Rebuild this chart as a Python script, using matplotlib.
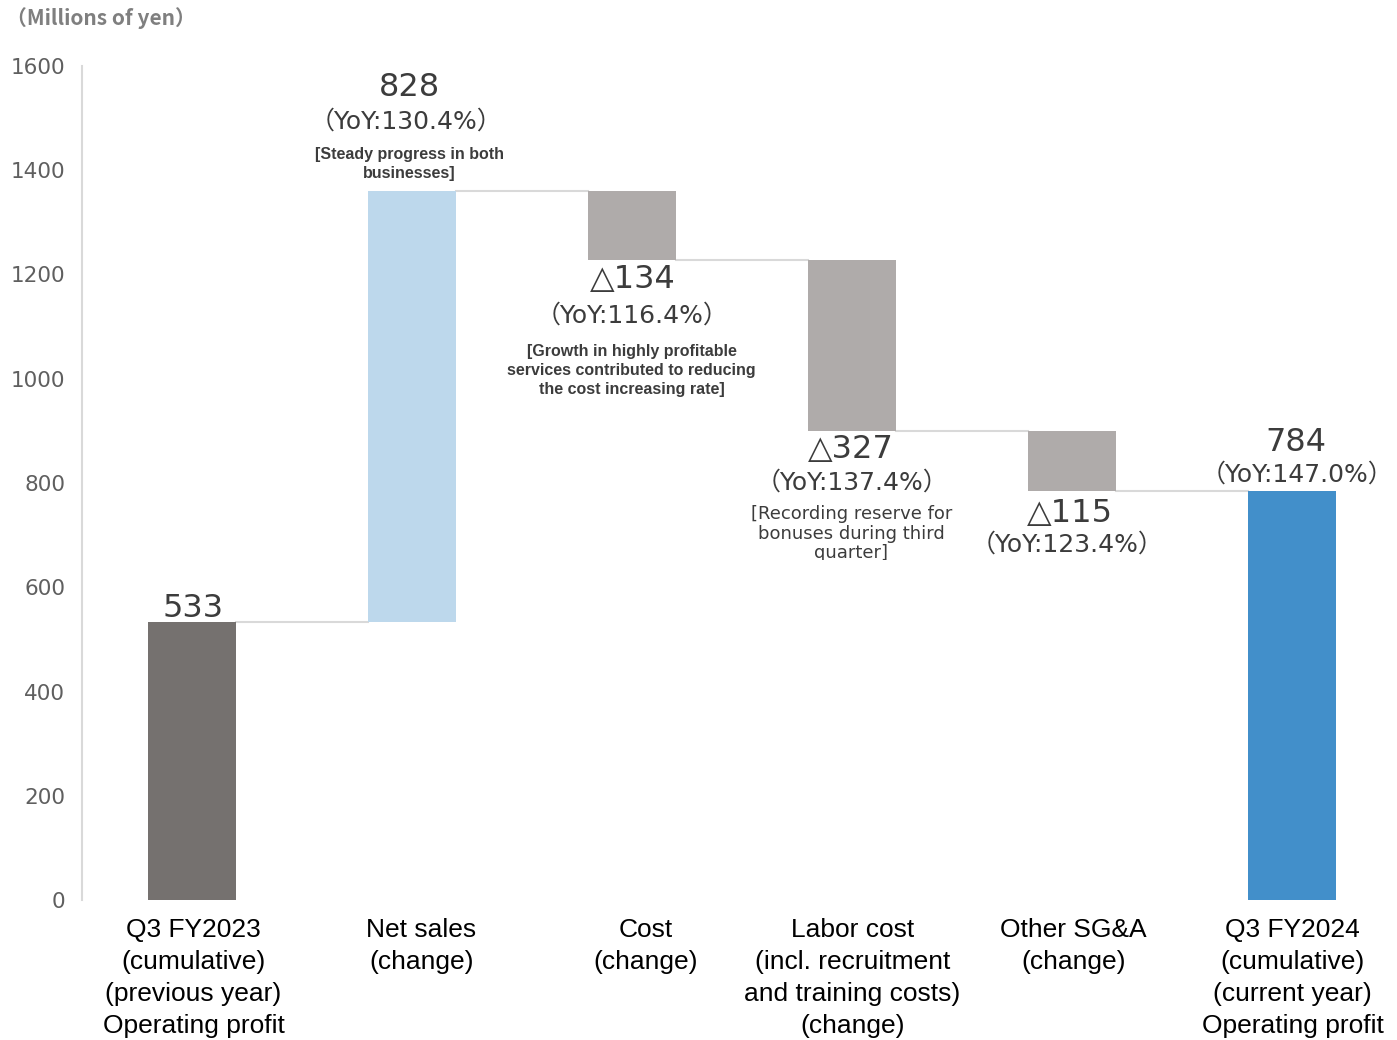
import matplotlib
matplotlib.use("Agg")
import matplotlib.pyplot as plt
import matplotlib.transforms as mtransforms

# data
categories = [
    "Q3 FY2023\n(cumulative)\n(previous year)\nOperating profit",
    "Net sales\n(change)",
    "Cost\n(change)",
    "Labor cost\n(incl. recruitment\nand training costs)\n(change)",
    "Other SG&A\n(change)",
    "Q3 FY2024\n(cumulative)\n(current year)\nOperating profit",
]
start_value = 533
changes = [828, -134, -327, -115]
end_value = 784
value_labels = ["533", "828", "△134", "△327", "△115", "784"]
yoy_labels = [None, "（YoY:130.4%）", "（YoY:116.4%）", "（YoY:137.4%）", "（YoY:123.4%）", "（YoY:147.0%）"]
notes = [None,
         "[Steady progress in both\nbusinesses]",
         "[Growth in highly profitable\nservices contributed to reducing\nthe cost increasing rate]",
         "[Recording reserve for\nbonuses during third\nquarter]",
         None, None]
yticks = [0, 200, 400, 600, 800, 1000, 1200, 1400, 1600]

colors = ["#75716f", "#bdd8ec", "#afabaa", "#afabaa", "#afabaa", "#428fca"]

JP = ["DejaVu Sans", "Noto Sans CJK JP"]
LAT = ["Liberation Sans", "DejaVu Sans"]

# waterfall geometry
bottoms, tops = [0], [start_value]
level = start_value
for c in changes:
    new = level + c
    bottoms.append(min(level, new))
    tops.append(max(level, new))
    level = new
bottoms.append(0)
tops.append(end_value)
heights = [t - b for t, b in zip(tops, bottoms)]

fig = plt.figure(figsize=(13.97, 10.40), dpi=100)
ax = fig.add_axes([82 / 1397, 140 / 1040, 1 - 82 / 1397, 834 / 1040])

x = list(range(len(categories)))
ax.bar(x, heights, bottom=bottoms, width=0.4, color=colors, zorder=3)

# connectors
levels = [start_value]
lv = start_value
for c in changes:
    lv += c
    levels.append(lv)
for i, lv in enumerate(levels):
    ax.plot([i + 0.2, i + 0.8], [lv, lv], color="#d9d9d9", lw=1.5, zorder=2)

ax.set_xlim(-0.502, 5.475)
ax.set_ylim(0, 1600)
ax.set_yticks(yticks)
ax.set_yticklabels([str(v) for v in yticks], family=JP, fontsize=15.5, color="#5f5f5f")
ax.tick_params(axis="y", length=0, pad=12)
ax.set_xticks(x)
ax.set_xticklabels(categories, family=LAT, fontsize=19, color="black", linespacing=1.42)
ax.tick_params(axis="x", length=0, pad=13)
shifts = [1, 9, 13, 0, 1, 0]
for lab, s in zip(ax.get_xticklabels(), shifts):
    lab.set_transform(lab.get_transform() + mtransforms.ScaledTranslation(s / 100, 0, fig.dpi_scale_trans))

for side in ["top", "right", "bottom"]:
    ax.spines[side].set_visible(False)
ax.spines["left"].set_color("#d9d9d9")
ax.spines["left"].set_linewidth(1.5)

txt = "#3c3c3c"

def put(i, y, s, dx, dy, size, fam=JP, weight="normal", ls=1.2, color=txt):
    return ax.annotate(s, xy=(i, y), xytext=(dx, dy), textcoords="offset pixels",
                       ha="center", va="center", fontsize=size, family=fam,
                       fontweight=weight, color=color, linespacing=ls, zorder=5)

# value labels
put(0, tops[0], value_labels[0], 1, 14, 23)
put(1, tops[1], value_labels[1], -3, 103, 23)
put(1, tops[1], yoy_labels[1], -6, 69, 18)
put(1, tops[1], notes[1], -3, 27, 11.5, fam=LAT, weight="bold", ls=1.33)
put(2, bottoms[2], value_labels[2], 0, -19, 23)
put(2, bottoms[2], yoy_labels[2], 0, -55, 18)
put(2, bottoms[2], notes[2], -1, -110, 11.5, fam=LAT, weight="bold", ls=1.33)
put(3, bottoms[3], value_labels[3], -2, -19, 23)
put(3, bottoms[3], yoy_labels[3], 0, -52, 18)
note3 = put(3, bottoms[3], notes[3], -1, -103, 13, ls=1.1)
note3.set_clip_box(mtransforms.Bbox([[0, 1040 - 560], [1397, 1040]]))
note3.set_clip_on(True)
put(4, bottoms[4], value_labels[4], -3, -23, 23)
put(4, bottoms[4], yoy_labels[4], -5, -54, 18)
put(5, tops[5], value_labels[5], 3, 49, 23)
put(5, tops[5], yoy_labels[5], 5, 17, 18)

fig.text(6 / 1397, 1 - 18 / 1040, "（Millions of yen）", family=["Noto Sans CJK JP"], fontsize=15,
         fontweight="bold", color="#7f7f7f", ha="left", va="center")

fig.savefig("out.png", dpi=100)
